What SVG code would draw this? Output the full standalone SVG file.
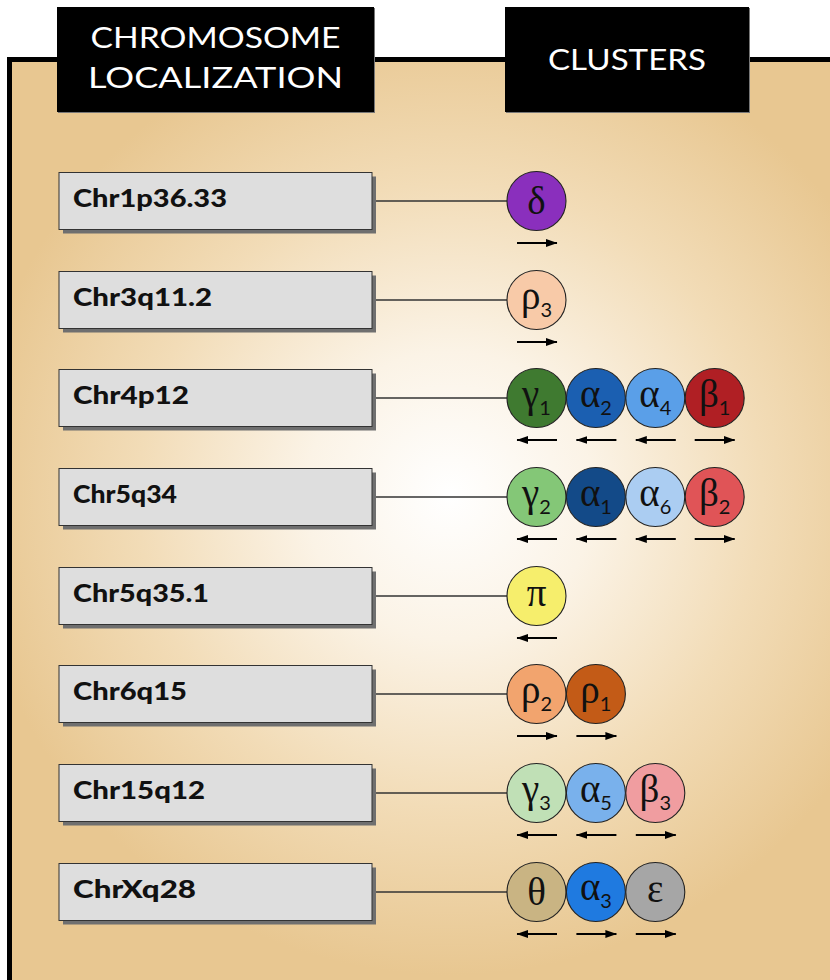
<svg xmlns="http://www.w3.org/2000/svg" width="830" height="980" viewBox="0 0 830 980">
  <defs>
    <radialGradient id="panelGlow" gradientUnits="userSpaceOnUse" cx="450" cy="495" r="480">
      <stop offset="0" stop-color="#ffffff"/>
      <stop offset="0.3" stop-color="#fbf3e6"/>
      <stop offset="0.65" stop-color="#f2dcb7"/>
      <stop offset="1" stop-color="#e8c791"/>
    </radialGradient>
    <marker id="head" markerUnits="userSpaceOnUse" markerWidth="12" markerHeight="10" refX="11" refY="5" orient="auto">
      <path d="M0,1 L11.5,5 L0,9 z" fill="#000"/>
    </marker>
    <style>
      .hdr { fill: #000; }
      .hdrtxt { font-family: Lato, "Liberation Sans", sans-serif; font-size: 28px; fill: #fff; text-anchor: middle; }
      .box { fill: #dedede; stroke: #333; stroke-width: 1; }
      .shadow { fill: #6f6f6f; }
      .lbl { font-family: Lato, "Liberation Sans", sans-serif; font-weight: 900; font-size: 25px; fill: #111; }
      .link { stroke: #333; stroke-width: 1.3; fill: none; }
      .sub { stroke: #222; stroke-width: 1.1; }
      .gk { font-family: "Liberation Serif", "Times New Roman", serif; font-size: 39px; fill: #111; text-anchor: middle; }
      .ix { font-family: Lato, "Liberation Sans", sans-serif; font-size: 20px; }
      .arr { stroke: #000; stroke-width: 1.8; fill: none; marker-end: url(#head); }
    </style>
  </defs>

  <!-- framed panel with warm radial shading -->
  <rect x="12" y="62" width="818" height="918" fill="url(#panelGlow)"/>
  <path d="M9.5,980 L9.5,59.5 L830,59.5" fill="none" stroke="#000" stroke-width="5"/>

  <!-- column headers -->
  <g id="header-localization">
    <rect x="58" y="8" width="317" height="105" fill="#777"/>
    <rect class="hdr" x="57" y="7" width="317" height="105"/>
    <text class="hdrtxt" x="215.5" y="48" textLength="250" lengthAdjust="spacingAndGlyphs">CHROMOSOME</text>
    <text class="hdrtxt" x="215.5" y="88" textLength="255" lengthAdjust="spacingAndGlyphs">LOCALIZATION</text>
  </g>
  <g id="header-clusters">
    <rect x="506" y="8" width="244" height="105" fill="#777"/>
    <rect class="hdr" x="505" y="7" width="244" height="105"/>
    <text class="hdrtxt" x="627" y="70" textLength="158" lengthAdjust="spacingAndGlyphs">CLUSTERS</text>
  </g>

  <!-- connectors from chromosome boxes to clusters -->
  <g id="connectors">
    <line class="link" x1="372" y1="201" x2="507" y2="201"/>
    <line class="link" x1="372" y1="300" x2="507" y2="300"/>
    <line class="link" x1="372" y1="398" x2="507" y2="398"/>
    <line class="link" x1="372" y1="497" x2="507" y2="497"/>
    <line class="link" x1="372" y1="596" x2="507" y2="596"/>
    <line class="link" x1="372" y1="694" x2="507" y2="694"/>
    <line class="link" x1="372" y1="793" x2="507" y2="793"/>
    <line class="link" x1="372" y1="892" x2="507" y2="892"/>
  </g>

  <!-- chromosome location boxes -->
  <g id="chr1p36">
    <rect class="shadow" x="63" y="176.5" width="313" height="57"/>
    <rect class="box" x="59" y="172.5" width="313" height="57"/>
    <text class="lbl" x="73" y="207" textLength="154" lengthAdjust="spacingAndGlyphs">Chr1p36.33</text>
  </g>
  <g id="chr3q11">
    <rect class="shadow" x="63" y="275.5" width="313" height="57"/>
    <rect class="box" x="59" y="271.5" width="313" height="57"/>
    <text class="lbl" x="73" y="306" textLength="139" lengthAdjust="spacingAndGlyphs">Chr3q11.2</text>
  </g>
  <g id="chr4p12">
    <rect class="shadow" x="63" y="373.5" width="313" height="57"/>
    <rect class="box" x="59" y="369.5" width="313" height="57"/>
    <text class="lbl" x="73" y="404" textLength="116" lengthAdjust="spacingAndGlyphs">Chr4p12</text>
  </g>
  <g id="chr5q34">
    <rect class="shadow" x="63" y="472.5" width="313" height="57"/>
    <rect class="box" x="59" y="468.5" width="313" height="57"/>
    <text class="lbl" x="73" y="503" textLength="104" lengthAdjust="spacingAndGlyphs">Chr5q34</text>
  </g>
  <g id="chr5q35">
    <rect class="shadow" x="63" y="571.5" width="313" height="57"/>
    <rect class="box" x="59" y="567.5" width="313" height="57"/>
    <text class="lbl" x="73" y="602" textLength="136" lengthAdjust="spacingAndGlyphs">Chr5q35.1</text>
  </g>
  <g id="chr6q15">
    <rect class="shadow" x="63" y="669.5" width="313" height="57"/>
    <rect class="box" x="59" y="665.5" width="313" height="57"/>
    <text class="lbl" x="73" y="700" textLength="114" lengthAdjust="spacingAndGlyphs">Chr6q15</text>
  </g>
  <g id="chr15q12">
    <rect class="shadow" x="63" y="768.5" width="313" height="57"/>
    <rect class="box" x="59" y="764.5" width="313" height="57"/>
    <text class="lbl" x="73" y="799" textLength="132" lengthAdjust="spacingAndGlyphs">Chr15q12</text>
  </g>
  <g id="chrXq28">
    <rect class="shadow" x="63" y="867.5" width="313" height="57"/>
    <rect class="box" x="59" y="863.5" width="313" height="57"/>
    <text class="lbl" x="73" y="898" textLength="123" lengthAdjust="spacingAndGlyphs">ChrXq28</text>
  </g>

  <!-- subunit clusters: circles at x = 536.5 + 59.4*n -->
  <g id="cluster-1p36">
    <circle class="sub" cx="536.5" cy="201" r="29.5" fill="#8a2fbd"/>
    <text class="gk" x="536.5" y="214">δ</text>
    <line class="arr" x1="517" y1="243" x2="557" y2="243"/>
  </g>
  <g id="cluster-3q11">
    <circle class="sub" cx="536.5" cy="300" r="29.5" fill="#f8caa8"/>
    <text class="gk" x="536.5" y="309">ρ<tspan class="ix" dy="8">3</tspan></text>
    <line class="arr" x1="517" y1="342" x2="557" y2="342"/>
  </g>
  <g id="cluster-4p12">
    <circle class="sub" cx="536.5" cy="398" r="29.5" fill="#3f7a30"/>
    <circle class="sub" cx="595.9" cy="398" r="29.5" fill="#1b5fb1"/>
    <circle class="sub" cx="655.3" cy="398" r="29.5" fill="#5a9fe8"/>
    <circle class="sub" cx="714.7" cy="398" r="29.5" fill="#b01f24"/>
    <text class="gk" x="536.5" y="407">γ<tspan class="ix" dy="8">1</tspan></text>
    <text class="gk" x="595.9" y="407">α<tspan class="ix" dy="8">2</tspan></text>
    <text class="gk" x="655.3" y="407">α<tspan class="ix" dy="8">4</tspan></text>
    <text class="gk" x="714.7" y="407">β<tspan class="ix" dy="8">1</tspan></text>
    <line class="arr" x1="557" y1="440" x2="517" y2="440"/>
    <line class="arr" x1="616.4" y1="440" x2="576.4" y2="440"/>
    <line class="arr" x1="675.8" y1="440" x2="635.8" y2="440"/>
    <line class="arr" x1="694.7" y1="440" x2="734.7" y2="440"/>
  </g>
  <g id="cluster-5q34">
    <circle class="sub" cx="536.5" cy="497" r="29.5" fill="#84c777"/>
    <circle class="sub" cx="595.9" cy="497" r="29.5" fill="#134a88"/>
    <circle class="sub" cx="655.3" cy="497" r="29.5" fill="#abcdf2"/>
    <circle class="sub" cx="714.7" cy="497" r="29.5" fill="#e05457"/>
    <text class="gk" x="536.5" y="506">γ<tspan class="ix" dy="8">2</tspan></text>
    <text class="gk" x="595.9" y="506">α<tspan class="ix" dy="8">1</tspan></text>
    <text class="gk" x="655.3" y="506">α<tspan class="ix" dy="8">6</tspan></text>
    <text class="gk" x="714.7" y="506">β<tspan class="ix" dy="8">2</tspan></text>
    <line class="arr" x1="557" y1="539" x2="517" y2="539"/>
    <line class="arr" x1="616.4" y1="539" x2="576.4" y2="539"/>
    <line class="arr" x1="675.8" y1="539" x2="635.8" y2="539"/>
    <line class="arr" x1="694.7" y1="539" x2="734.7" y2="539"/>
  </g>
  <g id="cluster-5q35">
    <circle class="sub" cx="536.5" cy="596" r="29.5" fill="#f6ee6c"/>
    <text class="gk" x="536.5" y="606">π</text>
    <line class="arr" x1="557" y1="638" x2="517" y2="638"/>
  </g>
  <g id="cluster-6q15">
    <circle class="sub" cx="536.5" cy="694" r="29.5" fill="#f2a46e"/>
    <circle class="sub" cx="595.9" cy="694" r="29.5" fill="#c35b17"/>
    <text class="gk" x="536.5" y="703">ρ<tspan class="ix" dy="8">2</tspan></text>
    <text class="gk" x="595.9" y="703">ρ<tspan class="ix" dy="8">1</tspan></text>
    <line class="arr" x1="517" y1="736" x2="557" y2="736"/>
    <line class="arr" x1="576.4" y1="736" x2="616.4" y2="736"/>
  </g>
  <g id="cluster-15q12">
    <circle class="sub" cx="536.5" cy="793" r="29.5" fill="#c0e0b6"/>
    <circle class="sub" cx="595.9" cy="793" r="29.5" fill="#79b1ec"/>
    <circle class="sub" cx="655.3" cy="793" r="29.5" fill="#f09da0"/>
    <text class="gk" x="536.5" y="802">γ<tspan class="ix" dy="8">3</tspan></text>
    <text class="gk" x="595.9" y="802">α<tspan class="ix" dy="8">5</tspan></text>
    <text class="gk" x="655.3" y="802">β<tspan class="ix" dy="8">3</tspan></text>
    <line class="arr" x1="557" y1="835" x2="517" y2="835"/>
    <line class="arr" x1="616.4" y1="835" x2="576.4" y2="835"/>
    <line class="arr" x1="635.8" y1="835" x2="675.8" y2="835"/>
  </g>
  <g id="cluster-Xq28">
    <circle class="sub" cx="536.5" cy="892" r="29.5" fill="#c9b483"/>
    <circle class="sub" cx="595.9" cy="892" r="29.5" fill="#1f7ae0"/>
    <circle class="sub" cx="655.3" cy="892" r="29.5" fill="#a6a6a6"/>
    <text class="gk" x="536.5" y="905">θ</text>
    <text class="gk" x="595.9" y="900">α<tspan class="ix" dy="8">3</tspan></text>
    <text class="gk" x="655.3" y="902">ε</text>
    <line class="arr" x1="557" y1="934" x2="517" y2="934"/>
    <line class="arr" x1="576.4" y1="934" x2="616.4" y2="934"/>
    <line class="arr" x1="635.8" y1="934" x2="675.8" y2="934"/>
  </g>
</svg>
